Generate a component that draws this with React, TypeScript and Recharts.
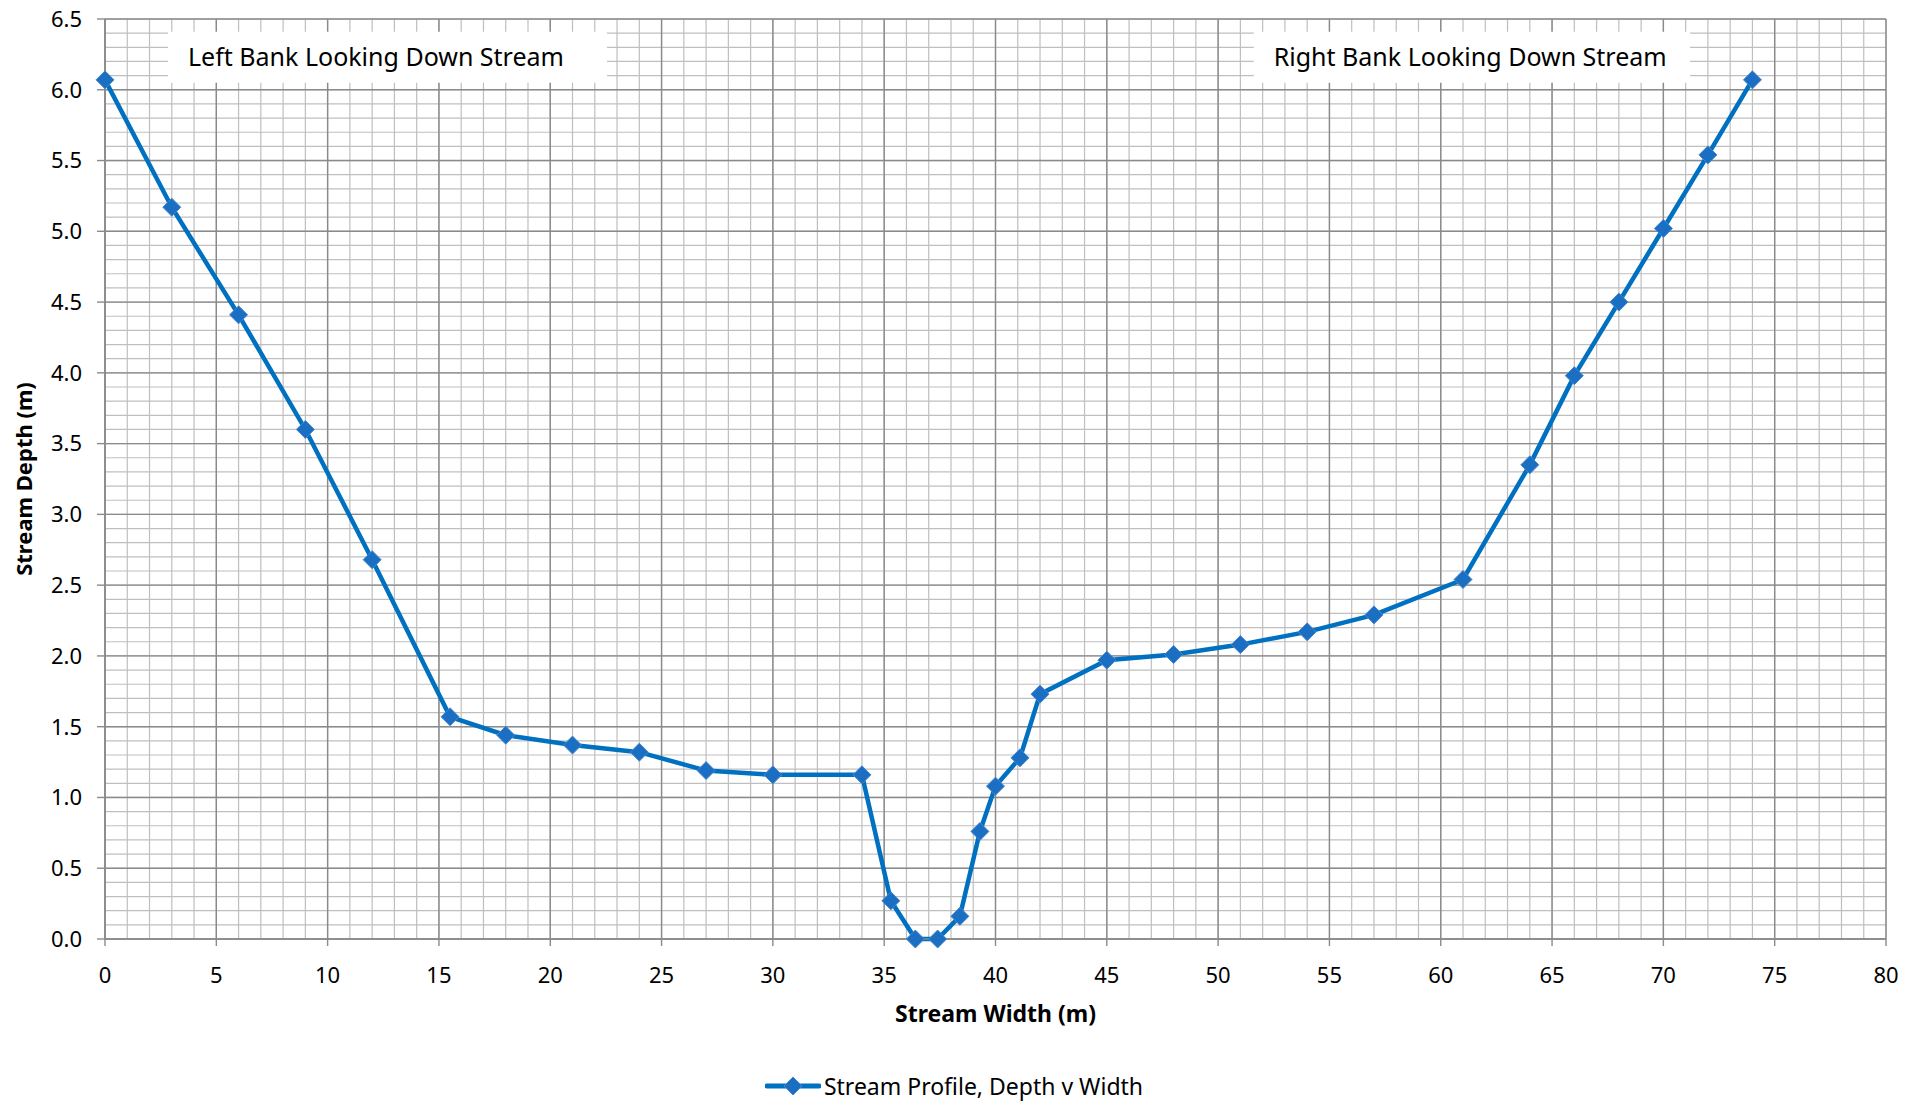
import React from "react";
import {
  LineChart,
  Line,
  XAxis,
  YAxis,
  CartesianGrid,
  ReferenceArea,
  Legend,
} from "recharts";

// stream cross section
const widthM = [
  0, 3, 6, 9, 12, 15.5, 18, 21, 24, 27, 30, 34, 35.3, 36.4, 37.4, 38.4, 39.3,
  40, 41.1, 42, 45, 48, 51, 54, 57, 61, 64, 66, 68, 70, 72, 74,
];
const depthM = [
  6.07, 5.17, 4.41, 3.6, 2.68, 1.57, 1.44, 1.37, 1.32, 1.19, 1.16, 1.16, 0.27,
  0.0, 0.0, 0.16, 0.76, 1.08, 1.28, 1.73, 1.97, 2.01, 2.08, 2.17, 2.29, 2.54,
  3.35, 3.98, 4.5, 5.02, 5.54, 6.07,
];

const xTicks = [0, 5, 10, 15, 20, 25, 30, 35, 40, 45, 50, 55, 60, 65, 70, 75, 80];
const yTicks = [0, 0.5, 1, 1.5, 2, 2.5, 3, 3.5, 4, 4.5, 5, 5.5, 6, 6.5];

// minor grid: every 1 m across, every 0.1 m deep
const xMinor = Array.from({ length: 81 }, (_, i) => i);
const yMinor = Array.from({ length: 66 }, (_, i) => i / 10);

const seriesName = "Stream Profile, Depth v Width";
const leftNote = "Left Bank Looking Down Stream";
const rightNote = "Right Bank Looking Down Stream";

const data = widthM.map((w, i) => ({ width: w, depth: depthM[i] }));

const FONT = "'Noto Sans', 'Open Sans', sans-serif";
const BLUE = "#0070c0";

const Diamond = (props: any) => {
  const { cx, cy, index } = props;
  if (cx == null || cy == null) return null;
  const r = 9;
  return (
    <path
      key={`d-${index}`}
      d={`M${cx},${cy - r} L${cx + r},${cy} L${cx},${cy + r} L${cx - r},${cy} Z`}
      fill="#1b6fc3"
      stroke="#4a86cc"
      strokeWidth={1}
    />
  );
};

const YTitle = (props: any) => {
  const vb = props.viewBox;
  const cx = vb.x + 15;
  const cy = vb.y + vb.height / 2;
  return (
    <text
      x={cx}
      y={cy}
      transform={`rotate(-90, ${cx}, ${cy})`}
      textAnchor="middle"
      dominantBaseline="central"
      fontFamily={FONT}
      fontSize={22}
      fontWeight="bold"
      fill="#000"
    >
      Stream Depth (m)
    </text>
  );
};

const XTitle = (props: any) => {
  const vb = props.viewBox;
  return (
    <text
      x={vb.x + vb.width / 2}
      y={vb.y + 74}
      textAnchor="middle"
      dominantBaseline="central"
      fontFamily={FONT}
      fontSize={23}
      fontWeight="bold"
      fill="#000"
    >
      Stream Width (m)
    </text>
  );
};

const LegendBox = () => (
  <div
    style={{
      height: 30,
      display: "flex",
      alignItems: "center",
      justifyContent: "center",
      fontFamily: FONT,
      fontSize: 23,
      color: "#000",
      paddingLeft: 14,
    }}
  >
    <svg width={56} height={30} style={{ marginRight: 3 }}>
      <line x1={2} y1={15} x2={54} y2={15} stroke={BLUE} strokeWidth={5} strokeLinecap="round" />
      <path d="M28,6 L37,15 L28,24 L19,15 Z" fill="#1b6fc3" stroke="#4a86cc" strokeWidth={1} />
    </svg>
    <span>{seriesName}</span>
  </div>
);

export default function App() {
  return (
    <div style={{ width: 1915, height: 1093, background: "#fff" }}>
      <LineChart
        width={1915}
        height={1093}
        data={data}
        margin={{ top: 11, right: 37, left: 0, bottom: 0 }}
      >
        {/* minor grid */}
        <CartesianGrid
          stroke="#bfbfbf"
          strokeWidth={1.2}
          verticalValues={xMinor}
          horizontalValues={yMinor}
        />
        {/* major grid */}
        <CartesianGrid
          stroke="#8a8a8a"
          strokeWidth={1.4}
          verticalValues={xTicks}
          horizontalValues={yTicks}
        />

        <XAxis
          dataKey="width"
          type="number"
          domain={[0, 80]}
          ticks={xTicks}
          interval={0}
          height={132}
          tickSize={7}
          tickMargin={21}
          axisLine={{ stroke: "#8a8a8a", strokeWidth: 1.6 }}
          tickLine={{ stroke: "#8a8a8a", strokeWidth: 1.4 }}
          tick={{ fill: "#000", fontSize: 22, fontFamily: FONT }}
          label={XTitle}
        />
        <YAxis
          dataKey="depth"
          type="number"
          domain={[0, 6.5]}
          ticks={yTicks}
          interval={0}
          width={97}
          tickSize={8}
          tickMargin={15}
          tickFormatter={(v: number) => v.toFixed(1)}
          axisLine={{ stroke: "#8a8a8a", strokeWidth: 1.6 }}
          tickLine={{ stroke: "#8a8a8a", strokeWidth: 1.4 }}
          tick={{ fill: "#000", fontSize: 22, fontFamily: FONT }}
          label={YTitle}
        />

        {/* bank notes */}
        <ReferenceArea
          x1={2.83}
          x2={22.55}
          y1={6.05}
          y2={6.41}
          fill="#fff"
          fillOpacity={1}
          stroke="none"
          label={{ value: leftNote, position: "insideLeft", offset: 20, fill: "#000", fontSize: 25, fontFamily: FONT }}
        />
        <ReferenceArea
          x1={51.6}
          x2={71.2}
          y1={6.05}
          y2={6.41}
          fill="#fff"
          fillOpacity={1}
          stroke="none"
          label={{ value: rightNote, position: "insideLeft", offset: 20, fill: "#000", fontSize: 25, fontFamily: FONT }}
        />

        <Legend verticalAlign="bottom" content={<LegendBox />} />

        <Line
          type="linear"
          dataKey="depth"
          name={seriesName}
          stroke={BLUE}
          strokeWidth={4.5}
          dot={Diamond}
          activeDot={false}
          isAnimationActive={false}
        />
      </LineChart>
    </div>
  );
}
